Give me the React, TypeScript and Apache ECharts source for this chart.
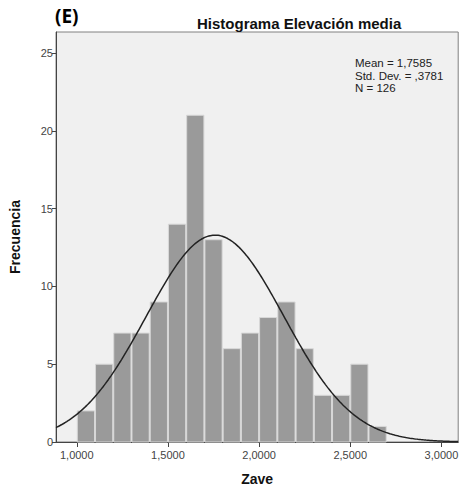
import React, { useEffect, useRef } from "react";
import * as echarts from "echarts";

const binStarts = [1.0, 1.1, 1.2, 1.3, 1.4, 1.5, 1.6, 1.7, 1.8, 1.9, 2.0, 2.1, 2.2, 2.3, 2.4, 2.5, 2.6];
const binWidth = 0.1;
const counts = [2, 5, 7, 7, 9, 14, 21, 13, 6, 7, 8, 9, 6, 3, 3, 5, 1];
const xTicks = [1.0, 1.5, 2.0, 2.5, 3.0];
const yTicks = [0, 5, 10, 15, 20, 25];
const statLines = ["Mean = 1,7585", "Std. Dev. = ,3781", "N = 126"];
const meanValue = 1.7585;
const stdDev = 0.3781;
const nCount = 126;
const xMin = 0.886;
const xMax = 3.092;
const yMax = 26.35;

export default function App() {
  const ref = useRef<HTMLDivElement>(null);
  useEffect(() => {
    document.body.style.margin = "0";
    const chart = echarts.init(ref.current!, null, { renderer: "svg" });
    const barData = binStarts.map((s, i) => [s, s + binWidth, counts[i]]);
    const curve: number[][] = [];
    const steps = 300;
    for (let i = 0; i <= steps; i++) {
      const x = xMin + ((xMax - xMin) * i) / steps;
      const z = (x - meanValue) / stdDev;
      const y = (nCount * binWidth * Math.exp(-0.5 * z * z)) / (stdDev * Math.sqrt(2 * Math.PI));
      curve.push([x, y]);
    }
    const fmt = (v: number) => v.toFixed(4).replace(".", ",");
    const statTexts = statLines.map((t, i) => ({
      type: "text",
      left: 355,
      top: 57 + i * 12.5,
      style: { text: t, fontFamily: "Liberation Sans, Arial", fontSize: 11.5, fill: "#222" },
    }));
    chart.setOption({
      animation: false,
      title: {
        text: "Histograma Elevación media",
        left: 192,
        top: 11,
        textStyle: { fontFamily: "Liberation Sans, Arial", fontSize: 15, fontWeight: "bold", color: "#111" },
      },
      grid: {
        left: 50,
        right: 2,
        top: 32,
        bottom: 49,
        show: true,
        backgroundColor: "#f0f0f0",
        borderColor: "#808080",
        borderWidth: 1,
      },
      graphic: [
        {
          type: "text",
          left: 55,
          top: 6,
          style: { text: "(E)", fontFamily: "Open Sans", fontSize: 19, fontWeight: "bold", fill: "#000" },
        },
        ...statTexts,
      ],
      xAxis: {
        type: "value",
        min: xMin,
        max: xMax,
        name: "Zave",
        nameLocation: "middle",
        nameGap: 30,
        nameTextStyle: { fontFamily: "Liberation Sans, Arial", fontSize: 14, fontWeight: "bold", color: "#111" },
        splitLine: { show: false },
        axisLine: { show: true, lineStyle: { color: "#444", width: 1 } },
        axisTick: { show: true, customValues: xTicks, length: 5, lineStyle: { color: "#444" } },
        axisLabel: {
          customValues: xTicks,
          formatter: (v: number) => fmt(v),
          fontFamily: "Liberation Sans, Arial",
          fontSize: 11,
          color: "#444",
          margin: 7,
        },
      },
      yAxis: {
        type: "value",
        min: 0,
        max: yMax,
        name: "Frecuencia",
        nameLocation: "middle",
        nameGap: 34,
        nameTextStyle: { fontFamily: "Liberation Sans, Arial", fontSize: 14, fontWeight: "bold", color: "#111" },
        splitLine: { show: false },
        axisLine: { show: true, lineStyle: { color: "#444", width: 1 } },
        axisTick: { show: true, customValues: yTicks, length: 4, lineStyle: { color: "#444" } },
        axisLabel: {
          customValues: yTicks,
          fontFamily: "Liberation Sans, Arial",
          fontSize: 11,
          color: "#444",
          margin: 3,
        },
      },
      series: [
        {
          type: "custom",
          data: barData,
          encode: { x: [0, 1], y: 2 },
          renderItem: (params: any, api: any) => {
            const p0 = api.coord([api.value(0), api.value(2)]);
            const p1 = api.coord([api.value(1), 0]);
            return {
              type: "rect",
              shape: { x: p0[0] + 0.5, y: p0[1], width: p1[0] - p0[0] - 1, height: p1[1] - p0[1] },
              style: { fill: "#9a9a9a", stroke: "#d8d8d8", lineWidth: 1 },
            };
          },
          z: 2,
        },
        {
          type: "line",
          data: curve,
          showSymbol: false,
          smooth: false,
          lineStyle: { color: "#222", width: 1.5 },
          z: 3,
        },
      ],
    });
    return () => chart.dispose();
  }, []);
  return <div ref={ref} style={{ width: 461, height: 491 }} />;
}
